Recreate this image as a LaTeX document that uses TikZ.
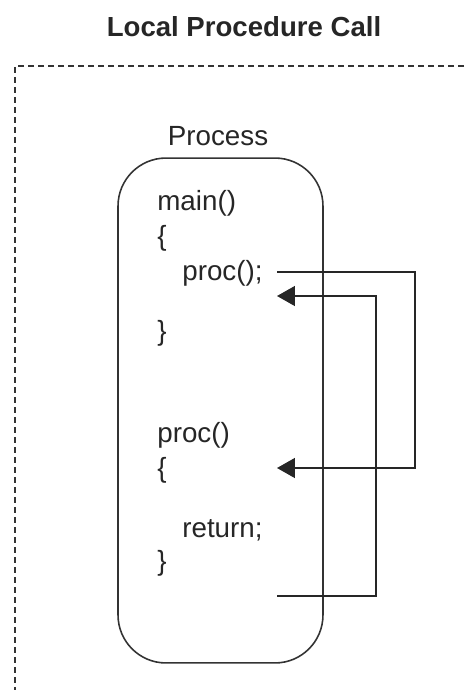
\documentclass[tikz,border=0pt]{standalone}
\usepackage{fontspec}
\setmainfont{Liberation Sans}
\usetikzlibrary{arrows.meta,positioning}
\tikzstyle{ttl}=[font=\fontsize{15.7}{19}\selectfont\bfseries,text=black!85,inner sep=0pt]
\tikzstyle{code}=[font=\fontsize{15.8}{19}\selectfont,text=black!85,inner sep=0pt,anchor=base west]
\tikzstyle{box}=[rectangle,draw,rounded corners=0.96cm,minimum width=4.1cm,minimum height=10.1cm,line width=0.9pt,black!80]
\tikzstyle{frame}=[dash pattern=on 0.12cm off 0.08cm,line width=1.1pt,black!80]
\tikzstyle{arr}=[-{Triangle[length=0.36cm,width=0.4cm]},line width=0.9pt,black!85]

\begin{document}
\begin{tikzpicture}[x=0.02cm,y=-0.02cm]
\useasboundingbox (0,0) rectangle (464,690);
% title and dashed machine frame
\node[ttl] (title) at (244,27) {Local Procedure Call};
\coordinate (fTR) at (464,66);
\coordinate (fTL) at (15,66);
\coordinate (fBL) at (15,690);
\draw[frame] (fTR) -- (fTL) -- (fBL);
% process box
\node[box] (process) at (220.5,410.5) {};
\node[code,anchor=base] (plabel) at (218,145) {Process};
% code lines
\node[code] (main) at (157,210) {main()};
\node[code] (mopen) at (157,245) {\{};
\node[code] (call) at (182,280) {proc();};
\node[code] (mclose) at (157,340) {\}};
\node[code] (proc) at (157,442) {proc()};
\node[code] (popen) at (157,477) {\{};
\node[code] (ret) at (182,537) {return;};
\node[code] (pclose) at (157,570) {\}};
% call and return paths
\coordinate (callsrc) at (277,272);
\coordinate (calldst) at (277,468);
\coordinate (retsrc) at (277,596);
\coordinate (retdst) at (277,296);
\draw[arr] (callsrc) -- ++(138,0) |- (calldst);
\draw[arr] (retsrc) -- ++(99,0) |- (retdst);
\end{tikzpicture}
\end{document}
